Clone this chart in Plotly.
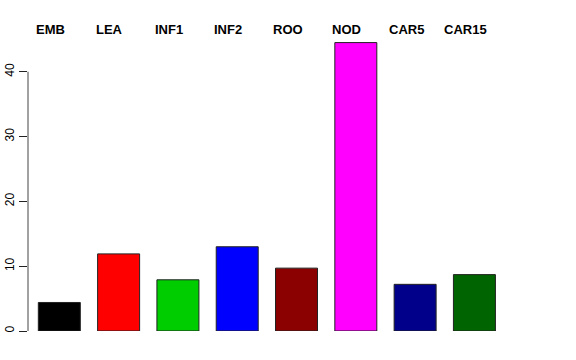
import plotly.graph_objects as go

categories = ["EMB", "LEA", "INF1", "INF2", "ROO", "NOD", "CAR5", "CAR15"]
values = [4.4, 11.9, 7.9, 13.0, 9.7, 44.5, 7.2, 8.7]
colors = ["#000000", "#FF0000", "#00CD00", "#0000FF", "#8B0000", "#FF00FF", "#00008B", "#006400"]
y_ticks = [0, 10, 20, 30, 40]

xs = list(range(len(categories)))

fig = go.Figure()
fig.add_trace(go.Bar(
    x=xs, y=values, width=0.708,
    marker=dict(color=colors, line=dict(color="#222222", width=1)),
    hoverinfo="skip", showlegend=False,
))

for i, name in enumerate(categories):
    fig.add_annotation(
        x=i, xref="x", y=1.0354, yref="paper",
        text="<b>%s</b>" % name, showarrow=False,
        xanchor="center", yanchor="middle", xshift=-9,
        font=dict(family="Liberation Sans, Arial, sans-serif", size=13, color="#000000"),
    )

fig.add_shape(type="line", xref="paper", yref="y", x0=0, x1=0,
              y0=min(y_ticks), y1=max(y_ticks),
              line=dict(color="#444444", width=1))

fig.update_layout(
    width=576, height=360,
    margin=dict(l=28, r=16, t=40, b=29, autoexpand=False),
    paper_bgcolor="white", plot_bgcolor="white",
    font=dict(family="Liberation Sans, Arial, sans-serif", size=12, color="#000000"),
    xaxis=dict(range=[-0.528, 8.443], showgrid=False, zeroline=False,
               showticklabels=False, ticks="", showline=False, automargin=False),
    yaxis=dict(range=[0, 44.9], tickvals=y_ticks, ticks="outside", ticklen=8,
               tickcolor="#222222", tickwidth=1, tickangle=-90,
               showgrid=False, zeroline=False, showline=False, automargin=False,
               tickfont=dict(size=12)),
)

fig.write_html("out.html", config={"displayModeBar": False, "staticPlot": True},
               post_script="document.body.style.margin='0';document.body.style.padding='0';")
